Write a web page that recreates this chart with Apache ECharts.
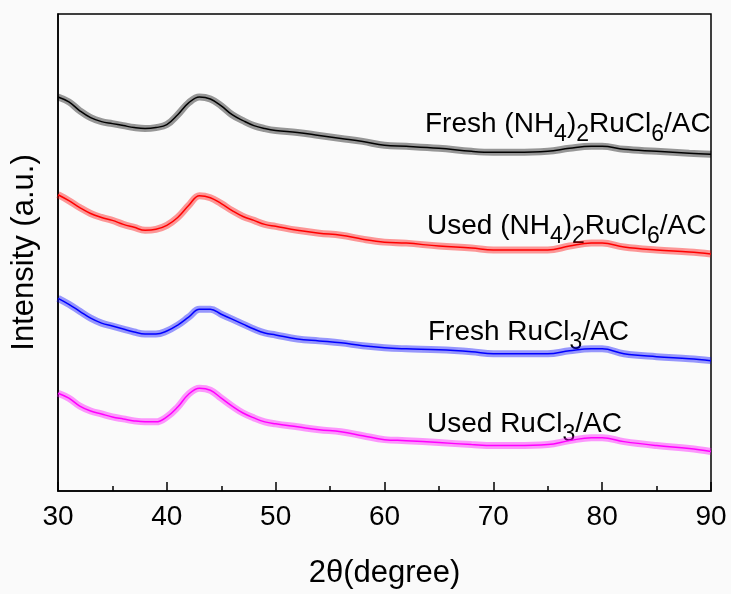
<!DOCTYPE html>
<html>
<head>
<meta charset="utf-8">
<script src="https://cdn.jsdelivr.net/npm/echarts@6/dist/echarts.min.js"></script>
<style>
  html, body { margin: 0; padding: 0; background: #fafafa; }
  #chart { width: 731px; height: 594px; }
</style>
</head>
<body>
<div id="chart"></div>
<script>
// 2θ positions (degree), shared by all four scans
const twoTheta = [30, 31, 32, 33, 34, 35, 36, 37, 38, 39, 40, 41, 42, 43, 44, 45, 46, 47, 48, 49, 50,
  52, 54, 56, 58, 60, 62, 65, 68, 70, 72, 75, 77, 79, 80, 82, 85, 88, 90];

// intensity (arbitrary units, curves are stacked)
const freshNH4 = [399, 394, 385, 378, 374, 372, 370, 368, 367, 368, 371, 381, 393, 399, 397, 390, 381, 375, 370, 367, 365,
  363, 360, 357, 354, 350, 349, 347, 344, 343, 343, 344, 347, 349, 349, 346, 344, 342, 341];
const usedNH4 = [300, 294, 287, 281, 277, 274, 270, 267, 264, 265, 269, 277, 289, 299, 297, 291, 284, 278, 274, 270, 268,
  264, 261, 259, 255, 252, 251, 248, 246, 244, 244, 244, 248, 251, 251, 247, 244, 242, 240];
const freshRu = [195, 189, 182, 175, 170, 167, 164, 161, 159, 159, 162, 168, 176, 184, 184, 179, 174, 169, 164, 160, 158,
  154, 152, 150, 147, 145, 144, 143, 141, 139, 139, 139, 142, 144, 144, 139, 136, 134, 132];
const usedRu = [99, 94, 86, 81, 78, 75, 73, 71, 70, 70, 75, 85, 98, 104, 102, 94, 86, 79, 74, 70, 68,
  65, 62, 60, 56, 52, 51, 49, 47, 46, 46, 47, 51, 54, 54, 50, 46, 43, 40];

const xTicks = [30, 40, 50, 60, 70, 80, 90];

const curves = [
  { name: 'Fresh (NH4)2RuCl6/AC', y: freshNH4, color: '#000000' },
  { name: 'Used (NH4)2RuCl6/AC', y: usedNH4, color: '#ff0000' },
  { name: 'Fresh RuCl3/AC', y: freshRu, color: '#0000ff' },
  { name: 'Used RuCl3/AC', y: usedRu, color: '#ff00ff' },
];

const chart = echarts.init(document.getElementById('chart'));

const pairs = (ys) => twoTheta.map((x, i) => [x, ys[i]]);

const series = [];
curves.forEach((c) => {
  // wide faint band stands in for the noise of the scan
  series.push({
    name: c.name + ' band',
    type: 'line',
    data: pairs(c.y),
    showSymbol: false,
    smooth: 0.4,
    silent: true,
    lineStyle: { width: 7, color: c.color, opacity: 0.4 },
  });
  series.push({
    name: c.name,
    type: 'line',
    data: pairs(c.y),
    showSymbol: false,
    smooth: 0.4,
    lineStyle: { width: 1.5, color: c.color },
  });
});

const font = 'Liberation Sans, Arial, sans-serif';
const rich = {
  n: { fontSize: 28, lineHeight: 28, verticalAlign: 'top', color: '#000', fontFamily: font },
  s: { fontSize: 23, lineHeight: 23, verticalAlign: 'top', padding: [13, 0, 0, 0], color: '#000', fontFamily: font },
};

const label = (text, x, y) => ({
  type: 'text',
  left: x,
  top: y,
  style: { text: text, rich: rich },
});

const option = {
  backgroundColor: '#fafafa',
  animation: false,
  textStyle: { fontFamily: font },
  grid: {
    left: 58, right: 20, top: 14, bottom: 97,
    show: true, borderColor: '#000', borderWidth: 1.5, backgroundColor: 'transparent',
  },
  xAxis: {
    type: 'value',
    min: 30,
    max: 90,
    interval: 10,
    name: '2θ(degree)',
    nameLocation: 'middle',
    nameGap: 67,
    nameTextStyle: { fontSize: 31, color: '#000' },
    axisLine: { lineStyle: { color: '#000', width: 1.5 } },
    axisTick: { inside: true, length: 9, lineStyle: { color: '#000', width: 1.5 } },
    minorTick: { show: true, splitNumber: 2, length: 5, lineStyle: { color: '#000', width: 1.5 } },
    axisLabel: {
      fontSize: 28, color: '#000', margin: 12,
      formatter: (v) => (xTicks.includes(v) ? String(v) : ''),
    },
    splitLine: { show: false },
  },
  yAxis: {
    type: 'value',
    min: 0,
    max: 483,
    name: 'Intensity (a.u.)',
    nameLocation: 'middle',
    nameRotate: 90,
    nameGap: 18,
    nameTextStyle: { fontSize: 31, color: '#000' },
    axisLine: { show: true, lineStyle: { color: '#000', width: 1.5 } },
    axisTick: { show: false },
    axisLabel: { show: false },
    splitLine: { show: false },
  },
  graphic: [
    label('{n|Fresh (NH}{s|4}{n|)}{s|2}{n|RuCl}{s|6}{n|/AC}', 425, 110),
    label('{n|Used (NH}{s|4}{n|)}{s|2}{n|RuCl}{s|6}{n|/AC}', 427, 212),
    label('{n|Fresh RuCl}{s|3}{n|/AC}', 428, 318),
    label('{n|Used RuCl}{s|3}{n|/AC}', 427, 410),
  ],
  series: series,
};

chart.setOption(option);
</script>
</body>
</html>
